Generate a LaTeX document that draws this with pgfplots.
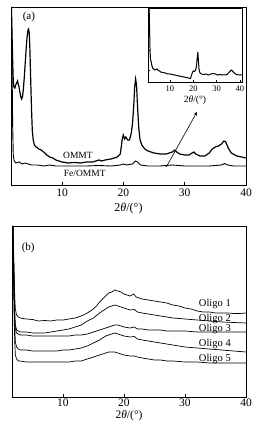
\documentclass[border=0pt]{standalone}
\usepackage{fontspec}
\setmainfont{Liberation Serif}
\usepackage{pgfplots}
\pgfplotsset{compat=1.18}
\begin{document}
\begin{tikzpicture}
\path[use as bounding box] (0,0) rectangle (260pt,427pt);
\pgfplotsset{
  every axis/.append style={
    scale only axis,
    axis line style={line width=0.8pt},
    /pgf/number format/assume math mode=true,
    tick style={black, line width=0.6pt},
    major tick length=3pt,
    tick align=inside,
    ytick=\empty,
    clip=true,
  }
}
% ---------------- panel (a)
\begin{axis}[
  at={(11pt,242pt)}, anchor=south west,
  width=235pt, height=178pt,
  xmin=1.68, xmax=40, ymin=0, ymax=178,
  xtick={10,20,30,40},
  xtick pos=bottom,
  ticklabel style={font=\fontsize{11.5}{12}\selectfont},
  xlabel={2\textit{θ}/(°)},
  xlabel style={font=\fontsize{12}{13}\selectfont, at={(axis description cs:0.5,-0.13)}, anchor=center},
]
\addplot[black, no markers, line width=1.2pt] coordinates {
(1.75,178) (1.85,150) (1.95,125) (2.05,104) (2.15,98) (2.3,97) (2.45,100) (2.6,102)
(2.75,104) (2.85,101) (2.95,99) (3.1,94) (3.25,89) (3.4,86) (3.55,88) (3.7,96)
(3.85,108) (4.0,122) (4.15,136) (4.3,148) (4.45,155) (4.55,156) (4.65,152) (4.75,138)
(4.85,115) (4.95,92) (5.05,72) (5.15,55) (5.3,45) (5.5,40) (5.8,38) (6.2,36)
(6.6,35) (7.0,33) (7.5,30) (8.0,28) (8.5,27) (9.0,25) (9.5,24) (10,23)
(11,22) (12,22.5) (13,22) (14,23) (15,23) (16,25) (16.5,24) (17,25) (18,26)
(19,28) (19.5,31) (19.7,40) (19.85,47) (20.0,50) (20.2,46) (20.4,48) (20.7,45)
(21.0,45) (21.3,52) (21.5,62) (21.7,80) (21.85,98) (22.0,106) (22.15,100) (22.3,80)
(22.5,58) (22.7,46) (23.0,40) (23.5,36) (24,34) (25,32) (26,31) (27,31)
(27.5,32) (28.0,33) (28.4,35) (28.7,33) (29.2,31) (30,30) (30.7,30) (31.2,32)
(31.5,33) (31.8,31) (32.5,29) (33.3,29) (34,32) (34.5,36) (35,38) (35.5,39)
(36.0,41) (36.4,44) (36.7,43) (37.1,37) (37.6,32) (38.5,29) (39.3,28) (40,27)
};
\addplot[black, no markers, line width=0.9pt] coordinates {
(1.75,178) (1.85,120) (1.95,60) (2.05,30) (2.2,24) (2.5,22) (3.0,23) (3.5,21)
(4.0,22) (4.5,21) (5,20) (6,20) (7,19) (8,20) (9,19) (10,19) (12,19)
(14,19) (16,19.5) (18,19) (19.5,20) (20,21) (20.5,20) (21.5,21) (22.0,24)
(22.3,23) (22.8,20) (24,19) (26,19) (28,20) (30,19) (32,19) (34,19)
(36,20) (36.5,21.5) (37,20) (38,19) (40,19)
};
\node[font=\fontsize{9.5}{10}\selectfont] at (axis cs:12.6,30) {OMMT};
\node[font=\fontsize{9.5}{10}\selectfont] at (axis cs:13.7,12) {Fe/OMMT};
\node[font=\fontsize{11}{12}\selectfont] at (axis cs:4.6,168) {(a)};
\draw[-stealth, line width=0.6pt] (axis cs:27,18) -- (axis cs:32,73);
\end{axis}
% ---------------- inset
\begin{axis}[
  at={(148pt,345pt)}, anchor=south west,
  width=94pt, height=74pt,
  axis background/.style={fill=white},
  xmin=0.6, xmax=40.9, ymin=0, ymax=74,
  xtick={10,20,30,40},
  ytick={12,32,52,72}, yticklabels={},
  major tick length=2pt,
  xtick pos=bottom, ytick pos=left,
  axis line style={line width=0.7pt},
  ticklabel style={font=\fontsize{8.5}{9}\selectfont},
  xlabel={2\textit{θ}/(°)},
  xlabel style={font=\fontsize{9.5}{10}\selectfont, at={(axis description cs:0.5,-0.25)}, anchor=center},
]
\addplot[black, no markers, line width=1pt] coordinates {
(1.1,73) (1.3,50) (1.5,30) (1.7,22) (2.0,20) (2.3,16) (2.6,14) (3.0,13)
(3.5,12) (4.0,12.5) (4.5,13) (5.0,11.5) (5.5,11) (6,10) (7,9.5) (8,9) (9,8)
(10,8) (11,7.5) (12,7) (13,6.5) (14,6) (15,5.5) (16,5) (17,4.5) (18,4)
(18.8,3.5) (19.3,7) (19.7,10) (20.2,11) (20.6,10.5) (21.0,12) (21.4,16) (21.7,24)
(21.95,30) (22.2,22) (22.5,12) (22.9,9) (23.5,8) (24.5,7.5) (25.5,8) (26.5,7)
(27.5,8) (28.5,8.5) (29.5,8) (30.5,7) (31.5,7.5) (32.5,7) (33.5,7) (34.5,7.5)
(35.5,10) (36.3,12) (37,10.5) (37.8,8.5) (38.5,7.5) (39.5,7) (40.9,7)
};
\end{axis}
% ---------------- panel (b)
\begin{axis}[
  at={(12pt,30pt)}, anchor=south west,
  width=234pt, height=171pt,
  xmin=1.65, xmax=40, ymin=0, ymax=171,
  xtick={10,20,30,40},
  xtick pos=bottom,
  ticklabel style={font=\fontsize{11.5}{12}\selectfont, yshift=1.5pt},
  xlabel={2\textit{θ}/(°)},
  xlabel style={font=\fontsize{11.5}{12}\selectfont, at={(axis description cs:0.5,-0.108)}, anchor=center},
]
\addplot[black, no markers, line width=0.7pt] coordinates {
(1.8,171) (1.9,150) (2.0,125) (2.1,100) (2.2,88) (2.4,82) (2.7,80) (3.0,79)
(4,78) (5,77.5) (6,76) (7,76.5) (8,76) (9,77) (10,77) (11,78) (12,79)
(13,81) (14,84) (15,88) (15.5,91) (16,95) (16.5,98) (17,101) (17.5,104)
(18,105) (18.5,107) (19,106) (19.5,105) (20,103) (20.5,102) (21,101) (21.6,103)
(22,100) (22.5,99) (23,98) (24,97) (25,96) (26,95) (27,94) (28,92) (29,91)
(30,89) (31,88) (32,86) (33,85) (34,85) (35,84) (36,84) (37,84) (38,83.5) (39,83.5) (40,84)
};
\addplot[black, no markers, line width=0.7pt] coordinates {
(1.8,171) (1.9,140) (2.0,110) (2.1,85) (2.2,72) (2.4,67) (2.7,66) (3,65)
(4,65) (5,64) (6,64) (7,64) (8,65) (9,66) (10,67) (11,68) (12,70) (13,72)
(14,76) (15,79) (16,84) (17,88) (17.5,90) (18,91) (18.5,92) (19,91) (19.5,90)
(20,89) (21,87) (21.7,87.5) (22.2,85) (23,84) (24,83) (25,82) (26,81) (27,80)
(28,79) (30,78) (32,77) (34,76) (36,75) (38,74.5) (40,74)
};
\addplot[black, no markers, line width=0.7pt] coordinates {
(1.8,171) (1.9,140) (2.0,105) (2.1,80) (2.2,68) (2.4,64) (2.7,63) (3,62)
(4,62) (5,61) (6,61) (7,61) (8,61) (9,61) (10,61) (11,61) (12,62) (13,62)
(14,63) (15,65) (16,67) (17,69) (17.5,70) (18,71) (18.5,72) (19,72) (19.5,71)
(20,70) (21,69) (21.7,70) (22.2,68) (23,68) (24,67) (25,67) (26,67) (27,66)
(28,66) (30,66) (32,65) (34,65) (36,65) (38,65) (40,65)
};
\addplot[black, no markers, line width=0.7pt] coordinates {
(1.8,171) (1.9,130) (2.0,95) (2.1,70) (2.2,55) (2.4,50) (2.7,48) (3,47)
(4,47) (5,46) (6,46) (7,46) (8,46) (9,46) (10,47) (11,47) (12,48) (13,49)
(14,51) (15,54) (16,57) (17,61) (17.5,62) (18,63) (18.5,64) (19,63) (19.5,62)
(20,61) (21,60) (21.7,60.5) (22.2,58) (23,57) (24,56) (25,55) (26,54) (27,53)
(28,52) (30,50) (32,49) (34,48) (36,47) (38,46) (40,45)
};
\addplot[black, no markers, line width=0.7pt] coordinates {
(1.8,171) (1.9,120) (2.0,80) (2.1,55) (2.2,42) (2.4,38) (2.7,36) (3,36)
(4,35) (5,35) (6,35) (7,35) (8,35) (9,35) (10,35) (11,35) (12,36) (13,36)
(14,38) (15,40) (16,42) (17,44) (17.5,45) (18,45) (18.5,45) (19,44) (20,42)
(21,41) (21.7,41) (22.2,40) (23,39) (24,38) (25,37) (26,37) (27,36) (28,36)
(30,35) (32,35) (34,34) (36,34) (38,34) (40,34)
};
\node[font=\fontsize{11}{12}\selectfont] at (axis cs:4.3,149) {(b)};
\node[font=\fontsize{10.5}{11}\selectfont] at (axis cs:34.9,93) {Oligo 1};
\node[font=\fontsize{10.5}{11}\selectfont] at (axis cs:34.9,78) {Oligo 2};
\node[font=\fontsize{10.5}{11}\selectfont] at (axis cs:34.9,68) {Oligo 3};
\node[font=\fontsize{10.5}{11}\selectfont] at (axis cs:34.9,53) {Oligo 4};
\node[font=\fontsize{10.5}{11}\selectfont] at (axis cs:34.9,38) {Oligo 5};
\end{axis}
\end{tikzpicture}
\end{document}
